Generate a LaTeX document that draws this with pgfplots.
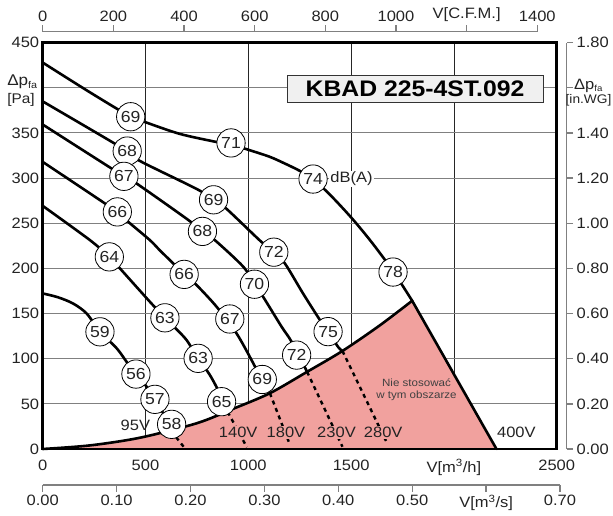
\documentclass[border=0pt]{standalone}
\usepackage{fontspec}
\setmainfont{Liberation Sans}[FakeStretch=1.1]
\usepackage{pgfplots}
\pgfplotsset{compat=1.18}
\definecolor{zone}{RGB}{241,161,158}
\definecolor{axgray}{RGB}{128,128,128}
\definecolor{txt}{RGB}{35,35,35}
\newcommand{\fs}[1]{\fontsize{#1}{#1}\selectfont}

\pgfplotsset{
  fan/.style={black, line width=2.6pt, smooth, line join=round, line cap=round},
  below/.style={black, line width=2.4pt, dash pattern=on 4pt off 4pt},
  scale2/.style={scale only axis, axis line style={axgray, line width=1.3pt},
    tick style={axgray, line width=1.3pt}, tick align=outside, major tick length=6.5pt,
    tick label style={font=\fs{15}, text=txt}},
}

\begin{document}
\begin{tikzpicture}
\useasboundingbox (-42.7pt,-66pt) rectangle (570.3pt,449pt);

% V [C.F.M.] scale on top
\begin{axis}[scale2, at={(0pt,417.3pt)}, anchor=north west, width=494.6pt, height=1pt,
  xmin=0, xmax=1400, ymin=0, ymax=1, axis x line*=top, axis y line=none, ytick=\empty,
  xtick={0,200,...,1400}, xticklabels={0,200,400,600,800,1000,{V[C.F.M.]},1400}]
\end{axis}

% V [m3/s] scale below
\begin{axis}[scale2, at={(0pt,-36pt)}, anchor=south west, width=517.3pt, height=1pt,
  xmin=0, xmax=0.7, ymin=0, ymax=1, axis x line*=bottom, axis y line=none, ytick=\empty,
  xtick={0,0.1,0.2,0.3,0.4,0.5,0.6,0.7},
  xticklabels={0.00,0.10,0.20,0.30,0.40,0.50,{V[m\textsuperscript{3}/s]},0.70}]
\end{axis}

% in.WG scale on the right
\begin{axis}[scale2, at={(524pt,0pt)}, anchor=south east, width=1pt, height=406.3pt,
  ymin=0, ymax=1.8, xmin=0, xmax=1, axis y line*=right, axis x line=none, xtick=\empty,
  ytick={0,0.2,0.4,0.6,0.8,1.0,1.2,1.4,1.6,1.8},
  yticklabels={0.00,0.20,0.40,0.60,0.80,1.00,1.20,1.40,{},1.80}]
\end{axis}

\begin{axis}[at={(0pt,0pt)}, anchor=south west, scale only axis,
  width=514pt, height=406.3pt, clip=false,
  xmin=0, xmax=2500, ymin=0, ymax=450,
  xtick={0,500,...,2500}, ytick={0,50,...,450},
  xticklabels={0,500,1000,1500,{V[m\textsuperscript{3}/h]},2500},
  yticklabels={0,50,100,150,200,250,300,350,{},450},
  major tick length=0pt,
  grid=major,
  x grid style={black!85, line width=0.8pt},
  y grid style={black!50, line width=1pt},
  axis line style={line width=2.6pt},
  tick label style={font=\fs{15}, text=txt},
  xticklabel style={yshift=-7pt},
]

% area where the fan must not be used
\addplot[draw=none, fill=zone, smooth] coordinates {
  (0,0) (230,4) (473,12.5) (749,28.5) (926,44.5) (1105,61.8) (1286,85.5) (1458,108.6) (1640,137) (1797,164.2)
} \closedcycle;
\addplot[draw=none, fill=zone] coordinates {(1600,0) (1797,164.2) (2207,0)};

% fan curves, 400V ... 95V
\addplot[fan] coordinates {
  (0,428) (230,395) (428,368) (499,362) (667,349) (846,340) (922,337) (992,332) (1100,324)
  (1170,317) (1251,308) (1315,299) (1400,281) (1502,256) (1600,229) (1704,197) (1797,164.2)};
\addplot[fan, sharp plot] coordinates {(1797,164.2) (2207,0)};
\addplot[fan] coordinates {
  (0,385) (411,330) (473,319) (749,288) (831,276) (894,266) (1056,231) (1124,218) (1178,205.5)
  (1267,172) (1348,143) (1388,130) (1437,113) (1458,108.6)};
\addplot[fan] coordinates {
  (0,359.4) (395,302) (457,294) (700,255) (777,241) (839,231) (975,202) (1030,182.5) (1072,168.6)
  (1162,135.4) (1210,119) (1286,85.5)};
\addplot[fan] coordinates {
  (0,318) (363,262.6) (416,251.6) (521.6,231.3) (570,220) (635,205.5) (688,193.4) (748.6,181.5)
  (846,157.5) (943,128) (1024,95) (1064,77) (1105,61.8)};
\addplot[fan] coordinates {
  (0,269.3) (230,231.3) (324,212.8) (375.7,200) (521.6,163) (594.5,145.3) (651,132.5) (700,120.6)
  (756,100.4) (813,82) (860,62) (900,41)};
\addplot[fan] coordinates {
  (0,172.3) (75,168) (149,161) (214,150) (278.5,130) (360,111.5) (408,96.6) (453.5,83) (505.6,69)
  (546,55) (578,43.2) (625,20)};

% continuation inside the forbidden area
\addplot[below] coordinates {(1458,108.6) (1676,6)};
\addplot[below] coordinates {(1286,85.5) (1458,2.5)};
\addplot[below] coordinates {(1105,61.8) (1202,5)};
\addplot[below] coordinates {(900,41) (993,2)};
\addplot[below] coordinates {(625,20) (689,1.5)};

% system curve
\addplot[fan] coordinates {
  (0,0) (230,4) (473,12.5) (749,28.5) (926,44.5) (1105,61.8) (1286,85.5) (1458,108.6) (1640,137) (1797,164.2)};

% voltage labels
\node[fill=zone, inner sep=1pt, font=\fs{15}, text=txt] at (axis cs:951,18) {140V};
\node[fill=zone, inner sep=1pt, font=\fs{15}, text=txt] at (axis cs:1183,18) {180V};
\node[fill=zone, inner sep=1pt, font=\fs{15}, text=txt] at (axis cs:1429,18) {230V};
\node[fill=zone, inner sep=1pt, font=\fs{15}, text=txt] at (axis cs:1656,18) {280V};
\node[inner sep=1pt, font=\fs{15}, text=txt] at (axis cs:451,26.6) {95V};
\node[inner sep=1pt, font=\fs{15}, text=txt] at (axis cs:2304,18) {400V};
\node[align=center, font=\fontsize{10.5}{11.7}\selectfont, text=black!75] at (axis cs:1818,65.3)
  {Nie stosować\\w tym obszarze};

% sound levels in dB(A)
\addplot[only marks, mark=none, nodes near coords, point meta=explicit symbolic,
  nodes near coords style={circle, draw=black, fill=white, line width=0.8pt,
    minimum size=28.3pt, inner sep=0pt, font=\fs{16}, text=txt, anchor=center}]
  table[meta=lab] {
x y lab
428 368 69
916 339 71
1315 299 74
1704 196 78
411 330 68
831 276 69
1124 218 72
1388 130 75
395 302 67
777 241 68
1030 182.5 70
1235 104 72
363 262.6 66
688 193.4 66
910 144 67
1068 77 69
324 212.8 64
594.5 145.3 63
756 100.4 63
870 52.4 65
278.5 129.8 59
453.5 83 56
546 55 57
627 27.3 58
};
\node[fill=white, inner sep=1pt, font=\fs{15}, text=txt] at (axis cs:1502,299) {dB(A)};

% model name
\node[draw=black!80, fill=black!6, line width=1pt, minimum width=256pt, minimum height=27.7pt,
  font=\bfseries\fs{22.5}] at (axis cs:1811,398.7) {KBAD 225-4ST.092};

% axis titles
\node[anchor=west, align=left, font=\fontsize{14}{18}\selectfont, text=txt, inner sep=0pt] at (axis cs:-173,396.4)
  {{\fontsize{15.5}{18}\selectfont Δp}\textsubscript{fa}\\{}[Pa]};
\node[align=center, font=\fontsize{12.5}{14}\selectfont, text=txt, inner sep=0pt] at (axis cs:2655,394.4)
  {{\fontsize{15}{14}\selectfont Δp}\textsubscript{fa}\\{}[in.WG]};

\draw[line width=2.6pt] (rel axis cs:0,0) rectangle (rel axis cs:1,1);
\end{axis}
\end{tikzpicture}
\end{document}
